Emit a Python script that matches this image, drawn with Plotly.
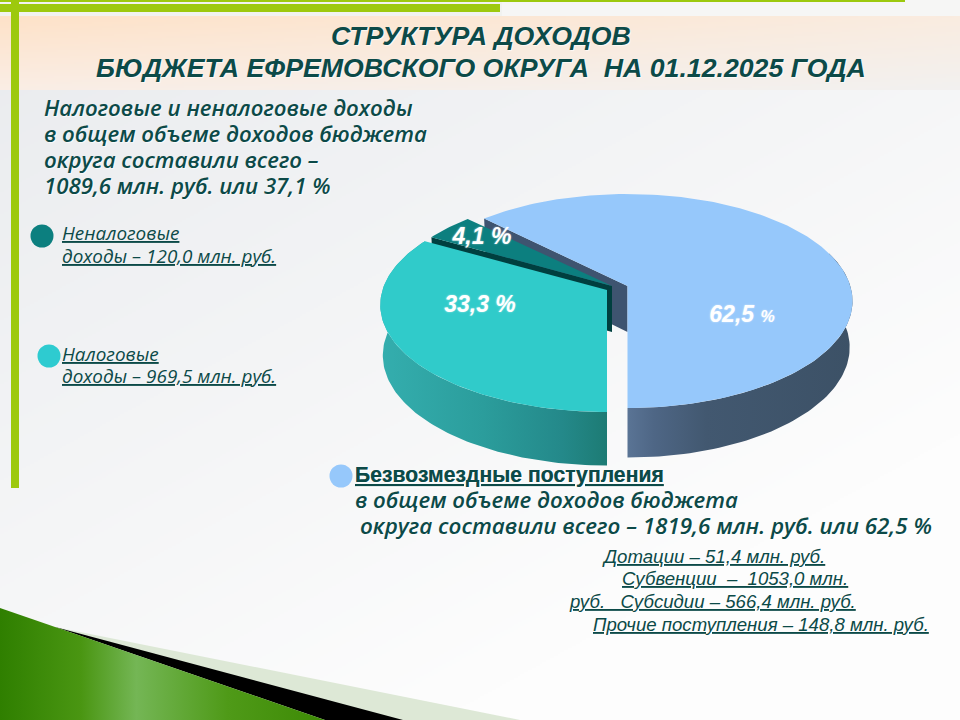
import numpy as np
import plotly.graph_objects as go

# --- data ---
slice_names = ["Безвозмездные поступления", "Налоговые доходы", "Неналоговые доходы"]
slice_shares = [62.5, 33.3, 4.1]
slice_labels = ["62,5 <span style='font-size:16px'>%</span>", "33,3 %", "4,1 %"]
amounts = [1819.6, 969.5, 120.0]

title_lines = ["СТРУКТУРА ДОХОДОВ", "БЮДЖЕТА ЕФРЕМОВСКОГО ОКРУГА\u00a0 НА 01.12.2025 ГОДА"]
left_lines = ["Налоговые и неналоговые доходы", "в общем объеме доходов бюджета",
              "округа составили всего –", "1089,6 млн. руб. или 37,1 %"]
legend_a = ["Неналоговые", "доходы – 120,0 млн. руб."]
legend_b = ["Налоговые", "доходы – 969,5 млн. руб."]
block_head = "Безвозмездные поступления"
block_lines = ["в общем объеме доходов бюджета", "округа составили всего – 1819,6 млн. руб. или 62,5 %"]
small_lines = ["Дотации – 51,4 млн. руб.", "Субвенции\u00a0 –\u00a0 1053,0 млн.",
               "руб.\u00a0\u00a0 Субсидии – 566,4 млн. руб.", "Прочие поступления – 148,8 млн. руб."]

INK = "#0c4a48"
BLUE, TEAL, DARK = "#96c8fb", "#30cbca", "#0c7f7f"

# --- projection of the tilted disc ---
K, P = 104.9, 0.14
K2 = 108.0


def top(x0, y0, th, a=222.8):
    X, Y = np.sin(th), np.cos(th)
    w = 1 + P * Y
    return x0 + a * X / w, y0 - K * Y / w


def bot(x0, y0, th, a=220.0, depth=46):
    X, Y = np.sin(th), np.cos(th)
    w = 1 + P * Y
    return x0 + a * X / w, y0 + depth - K2 * Y / w


fig = go.Figure()

# --- background painted as an image ---
H, W = 360, 480
yy, xx = np.mgrid[0:H, 0:W]
px, py = xx * 2.0, yy * 2.0
t = np.clip((px / 960 * 0.55 + py / 720 * 0.75), 0, 1)
bg = np.stack([233 + 20 * t, 235 + 18 * t, 238 + 15 * t], axis=-1)
bg[py < 15] = np.array([241, 242, 240])
bg[(py < 15) & (px > 500)] = np.array([246, 246, 245])
band = (py >= 15) & (py < 90)
fx = px / 960
fy = (py - 15) / 75
peach_top = np.stack([254 - 4 * fx, 226 + 10 * fx, 200 + 24 * fx], axis=-1)
peach_bot = np.stack([250 - 8 * fx, 238 + 3 * fx, 230 + 10 * fx], axis=-1)
mix = (peach_top * (1 - fy[..., None]) + peach_bot * fy[..., None])
bg[band] = mix[band]
fig.add_trace(go.Image(z=bg.astype(np.uint8), x0=1, y0=1, dx=2, dy=2, hoverinfo="skip"))


def poly(x, y, color=None, grad=None, name=None):
    kw = dict(x=x, y=y, mode="lines", line=dict(width=0), fill="toself", hoverinfo="skip",
              showlegend=False, name=name)
    if grad:
        kw["fillgradient"] = dict(type="horizontal", colorscale=grad)
    else:
        kw["fillcolor"] = color
    fig.add_trace(go.Scatter(**kw))


# --- frame decoration ---
poly([0, 905, 905, 0], [0, 0, 2, 2], "#9dc90e")
poly([0, 500, 500, 0], [4, 4, 12, 12], "#9dc90e")
poly([11, 19, 19, 11], [0, 0, 488, 488], "#9dc90e")
poly([55, 520, 325], [627, 720, 720], "#dde8d6")
poly([55, 403, 325], [627, 720, 720], "#000000")
poly([0, 325, 0], [608, 720, 720],
     grad=[[0, "#2f7f00"], [0.25, "#4a9612"], [0.42, "#74b655"], [0.7, "#4f9a18"], [1, "#3d8a05"]])

# --- pie angles from the shares ---
ang = [s * 3.6 for s in slice_shares]
th_blue = np.radians(np.linspace(180, 180 - ang[0], 160))
th_teal = np.radians(np.linspace(180, 180 + ang[1], 100))
th_dark = np.radians(np.linspace(180 + ang[1], 180 + ang[1] + ang[2], 20))

BC, TC, DC = (627.5, 286), (607, 290), (612, 286)

# blue inner wall
ex, ey = top(*BC, th_blue[-1])
bx, by = bot(*BC, th_blue[-1])
poly([BC[0], ex, bx, BC[0]], [BC[1], ey, by, BC[1] + 46], "#3e5470", name=slice_names[0])
# blue outer wall
th_front = th_blue[th_blue > np.radians(70)]
tx, ty = top(*BC, th_front)
ux, uy = bot(*BC, th_front)
poly(np.r_[tx, ux[::-1]], np.r_[ty, uy[::-1]],
     grad=[[0, "#5a7495"], [0.12, "#4e6685"], [0.35, "#425870"], [1, "#3c5166"]])
# blue top
tx, ty = top(*BC, th_blue)
poly(np.r_[BC[0], tx], np.r_[BC[1], ty], BLUE, name=slice_names[0])
# dark slice wall + top
ex, ey = top(*DC, th_dark[0])
bx, by = bot(*DC, th_dark[0])
poly([DC[0], ex, bx, DC[0]], [DC[1], ey, by, DC[1] + 46], "#003f3f")
tx, ty = top(*DC, th_dark)
poly(np.r_[DC[0], tx], np.r_[DC[1], ty], DARK, name=slice_names[2])
# teal outer wall
tx, ty = top(*TC, th_teal, a=224.5)
ux, uy = bot(*TC, th_teal, a=222.0, depth=50)
poly(np.r_[tx, ux[::-1]], np.r_[ty, uy[::-1]],
     grad=[[0, "#34aeae"], [0.45, "#2b9d9c"], [0.8, "#24898a"], [1, "#1d7b74"]])
# teal top
poly(np.r_[TC[0], tx], np.r_[TC[1], ty], TEAL, name=slice_names[1])

# --- legend dots ---
fig.add_trace(go.Scatter(x=[42, 49, 341], y=[236, 356, 476], mode="markers", hoverinfo="skip",
                         marker=dict(size=23, color=[DARK, "#2ecbd0", BLUE], line=dict(width=0)),
                         showlegend=False))

# --- pie labels ---
fig.add_trace(go.Scatter(x=[742, 480, 482], y=[316.5, 306, 238], mode="text", text=slice_labels,
                         textposition="middle center", hoverinfo="skip", showlegend=False,
                         textfont=dict(family="Liberation Sans", size=23, color="white",
                                       weight="bold", style="italic",
                                       shadow="0 0 2px rgba(255,255,255,0.6)")))


def label(x, y, text, size, family="Open Sans", weight="normal", style="italic",
          under=False, anchor="left", color=INK, shadow="1px 1px 1px rgba(255,255,255,0.7)"):
    font = dict(family=family, size=size, color=color, weight=weight, style=style, shadow=shadow)
    if under:
        font["lineposition"] = "under"
    fig.add_annotation(x=x, y=y, text=text, showarrow=False, xref="x", yref="y", xanchor=anchor,
                       yanchor="middle", align="left", font=font, borderpad=0, borderwidth=0)


for t_, y in zip(title_lines, [36, 68]):
    label(480.5, y, t_, 26.7, family="Liberation Sans", weight="bold", anchor="center")
for t_, y in zip(left_lines, [107.5, 133.5, 159.5, 185.5]):
    label(44, y, t_, 22.2, weight=600)
for t_, y in zip(legend_a, [233, 256]):
    label(62, y, t_, 18.9, under=True, shadow="none")
for t_, y in zip(legend_b, [354, 376]):
    label(62, y, t_, 18.9, under=True, shadow="none")
label(355, 475, block_head, 21.2, family="Liberation Sans", weight="bold", style="normal", under=True)
label(355, 499.5, block_lines[0], 22.2, weight=600)
label(360, 525.5, block_lines[1], 22.4, weight=600)
for t_, x, y in zip(small_lines, [602, 622, 569, 593], [556, 578, 601, 624]):
    label(x, y, t_, 18.6, family="Liberation Sans", under=True, shadow="none")

fig.update_layout(
    width=960, height=720, autosize=False, margin=dict(l=0, r=0, t=0, b=0),
    paper_bgcolor="#f4f5f5", plot_bgcolor="rgba(0,0,0,0)", showlegend=False,
    xaxis=dict(range=[0, 960], visible=False, fixedrange=True, constrain="domain"),
    yaxis=dict(range=[720, 0], visible=False, fixedrange=True),
)
fig.write_html("out.html", config=dict(displayModeBar=False),
               post_script="document.body.style.margin='0';document.body.style.overflow='hidden';")
